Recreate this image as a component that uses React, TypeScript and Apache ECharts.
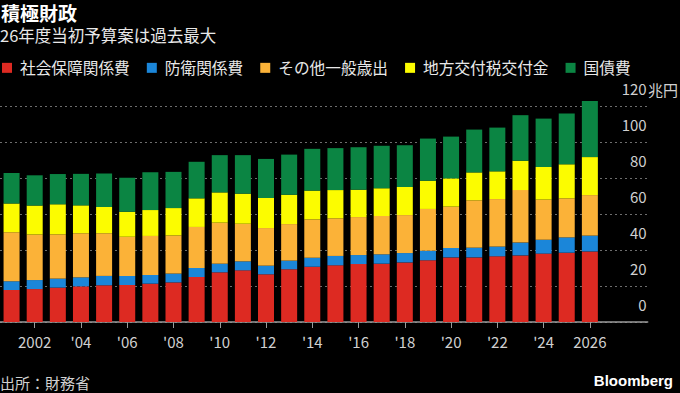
import React, { useEffect, useRef } from "react";
import * as echarts from "echarts";

// Fiscal years (initial budget), 兆円
const years = [
  2001, 2002, 2003, 2004, 2005, 2006, 2007, 2008, 2009, 2010, 2011, 2012, 2013,
  2014, 2015, 2016, 2017, 2018, 2019, 2020, 2021, 2022, 2023, 2024, 2025, 2026,
];
// empty categories that extend the axis to the right of the last bar
const trailingCategories = ["2027", "2028"];

const socialSecurity = [
  17.8, 18.3, 19.1, 19.8, 20.4, 20.6, 21.3, 22.0, 25.0, 27.6, 28.7, 26.5, 29.3,
  30.7, 31.5, 32.2, 32.4, 33.1, 34.3, 35.9, 35.9, 36.5, 37.0, 38.0, 38.5, 39.2,
];
const defense = [
  4.8, 5.0, 5.0, 5.0, 5.2, 5.0, 4.8, 4.9, 5.0, 4.8, 5.0, 4.8, 4.8,
  5.0, 5.2, 5.0, 5.2, 5.2, 5.3, 5.2, 5.4, 5.4, 7.1, 7.7, 8.5, 8.8,
];
const otherGeneral = [
  27.3, 25.3, 24.6, 24.5, 23.7, 21.8, 21.7, 21.2, 22.8, 22.8, 20.9, 20.9, 20.3,
  21.3, 20.9, 21.1, 21.3, 21.1, 23.2, 23.0, 26.3, 26.4, 29.2, 22.3, 21.7, 22.5,
];
const localAllocationTax = [
  15.9, 16.1, 16.7, 15.5, 14.6, 13.9, 14.4, 15.2, 15.9, 16.8, 16.7, 16.7, 16.3,
  16.0, 15.7, 15.2, 15.4, 15.6, 15.7, 15.7, 15.5, 15.4, 16.3, 18.1, 18.9, 21.1,
];
const debtService = [
  17.0, 16.8, 16.8, 17.5, 18.6, 18.8, 21.0, 20.1, 20.3, 20.7, 21.4, 21.7, 22.3,
  23.2, 23.3, 23.6, 23.6, 23.2, 23.4, 23.2, 23.8, 24.3, 25.3, 26.9, 28.2, 31.2,
];

const seriesNames = ["社会保障関係費", "防衛関係費", "その他一般歳出", "地方交付税交付金", "国債費"];
const seriesColors = ["#dd2a22", "#1b86d9", "#fbb238", "#fcfc00", "#0b8543"];
const yMin = 0;
const yMax = 120;
const yInterval = 20;

const FONT = '"Noto Sans CJK JP", "Noto Sans", sans-serif';

export default function App() {
  const ref = useRef<HTMLDivElement>(null);

  useEffect(() => {
    if (!ref.current) return;
    const chart = echarts.init(ref.current, null, { renderer: "svg" });
    const categories = [...years.map(String), ...trailingCategories];
    const values = [socialSecurity, defense, otherGeneral, localAllocationTax, debtService];
    const showYear = (index: number) =>
      index < years.length && years[index] % 2 === 0;

    chart.setOption({
      animation: false,
      backgroundColor: "#000000",
      textStyle: { fontFamily: FONT },
      title: [
        {
          text: "積極財政",
          left: 1,
          top: 3,
          padding: 0,
          textStyle: { color: "#ffffff", fontSize: 19, fontWeight: "bold", fontFamily: FONT },
        },
        {
          text: "26年度当初予算案は過去最大",
          left: 0,
          top: 27,
          padding: 0,
          textStyle: { color: "#e8e8e8", fontSize: 16.5, fontWeight: "normal", fontFamily: FONT },
        },
        {
          text: "出所：財務省",
          left: 0,
          top: 375,
          padding: 0,
          textStyle: { color: "#d0d0d0", fontSize: 15, fontWeight: "normal", fontFamily: FONT },
        },
        {
          text: "Bloomberg",
          right: 7,
          top: 373,
          padding: 0,
          textStyle: {
            color: "#ffffff",
            fontSize: 15,
            fontWeight: "bold",
            fontFamily: '"Liberation Sans", Arial, sans-serif',
          },
        },
      ],
      legend: {
        left: 2,
        top: 60,
        padding: 0,
        itemWidth: 10,
        itemHeight: 10,
        itemGap: 17,
        icon: "rect",
        data: seriesNames,
        textStyle: { color: "#e8e8e8", fontSize: 15.7, fontFamily: FONT, padding: [0, 0, 0, 3] },
      },
      grid: { left: -4, right: 32.3, top: 106, bottom: 71, containLabel: false },
      xAxis: {
        type: "category",
        data: categories,
        boundaryGap: true,
        axisLine: { show: true, lineStyle: { color: "#9a9a9a", width: 1.5 } },
        axisTick: {
          show: true,
          alignWithLabel: true,
          length: 6,
          interval: (index: number) => showYear(index),
          lineStyle: { color: "#9a9a9a" },
        },
        axisLabel: {
          interval: (index: number) => showYear(index),
          margin: 12,
          color: "#d0d0d0",
          fontSize: 15,
          fontFamily: FONT,
          formatter: (value: string) => {
            const y = Number(value);
            if (y === 2002 || y === 2026) return value;
            return "'" + value.slice(2);
          },
        },
        splitLine: { show: false },
      },
      yAxis: {
        type: "value",
        position: "right",
        min: yMin,
        max: yMax,
        interval: yInterval,
        axisLine: { show: false },
        axisTick: { show: false },
        axisLabel: {
          inside: true,
          margin: 1,
          color: "#d0d0d0",
          fontSize: 15,
          fontFamily: FONT,
          verticalAlign: "bottom",
          padding: [0, 0, 10, 0],
          formatter: (v: number) => String(v),
        },
        splitLine: {
          show: true,
          lineStyle: { color: "#6e6e6e", type: [2, 3], width: 1 },
        },
      },
      graphic: [
        {
          type: "text",
          x: 648,
          y: 97,
          style: {
            text: "兆円",
            fill: "#d0d0d0",
            font: `15px ${FONT}`,
            verticalAlign: "bottom",
            align: "left",
          },
        },
      ],
      series: seriesNames.map((name, i) => ({
        name,
        type: "bar",
        stack: "total",
        barWidth: 16,
        clip: false,
        itemStyle: { color: seriesColors[i] },
        data: values[i],
      })),
    });

    return () => chart.dispose();
  }, []);

  return (
    <div
      ref={ref}
      style={{ position: "fixed", left: 0, top: 0, width: 680, height: 393, background: "#000" }}
    />
  );
}
